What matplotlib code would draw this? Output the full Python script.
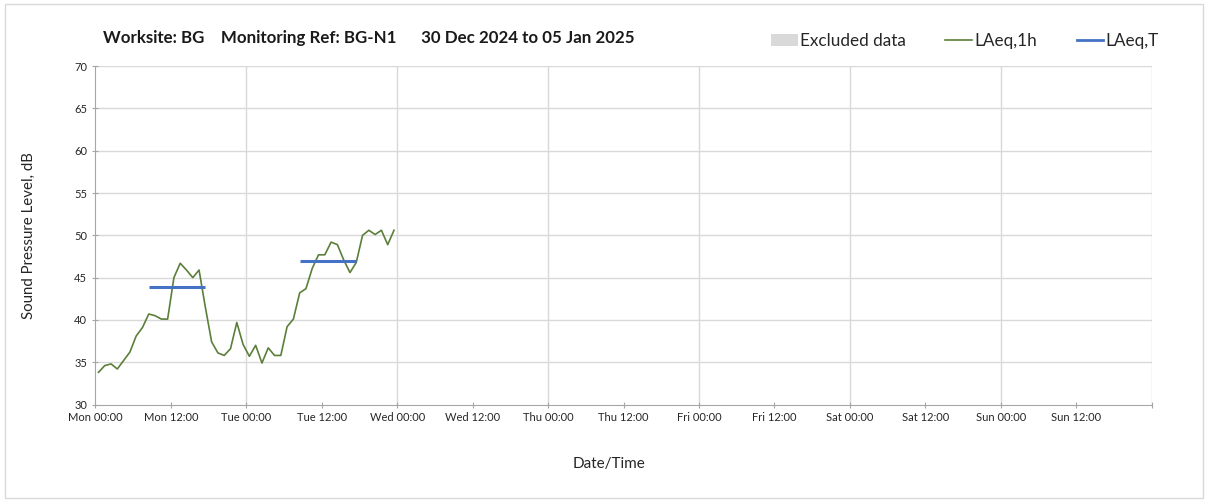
import matplotlib
matplotlib.use("Agg")
import matplotlib.pyplot as plt
from matplotlib.patches import Patch, Rectangle
from matplotlib.lines import Line2D
import pandas as pd

plt.rcParams["font.family"] = ["Lato", "DejaVu Sans"]

# ---- data ----
# LAeq,1h, one value per hour, plotted at the middle of each hour
hour_times = pd.date_range("2024-12-30 00:30", periods=48, freq="h")
laeq_1h = [33.8, 34.6, 34.8, 34.2, 35.2, 36.2, 38.1, 39.1, 40.7, 40.5, 40.1, 40.1,
           45.0, 46.7, 45.9, 45.0, 45.9, 41.5, 37.4, 36.1, 35.8, 36.6, 39.7, 37.1,
           35.7, 37.0, 34.9, 36.7, 35.8, 35.8, 39.2, 40.1, 43.2, 43.7, 46.1, 47.7,
           47.7, 49.2, 48.9, 47.1, 45.6, 46.8, 50.0, 50.6, 50.1, 50.6, 48.9, 50.6]

# LAeq,T (daytime period)
period_start = pd.to_datetime(["2024-12-30 08:30", "2024-12-31 08:30"])
period_end = pd.to_datetime(["2024-12-30 17:30", "2024-12-31 17:30"])
laeq_t = [43.9, 47.0]

x_ticks = pd.date_range("2024-12-30 00:00", "2025-01-06 00:00", freq="12h")
x_labels = ["Mon 00:00", "Mon 12:00", "Tue 00:00", "Tue 12:00", "Wed 00:00", "Wed 12:00",
            "Thu 00:00", "Thu 12:00", "Fri 00:00", "Fri 12:00", "Sat 00:00", "Sat 12:00",
            "Sun 00:00", "Sun 12:00", ""]
day_lines = pd.date_range("2024-12-31 00:00", "2025-01-06 00:00", freq="24h")
y_ticks = [30, 35, 40, 45, 50, 55, 60, 65, 70]

C_GREEN = "#5b7f3a"
C_BLUE = "#4472c4"
C_EXCL = "#d9d9d9"
GRID = "#d9d9d9"
AXC = "#a6a6a6"

fig = plt.figure(figsize=(12.08, 5.01), dpi=100)
fig.patches.append(Rectangle((5 / 1208, 3 / 501), 1198 / 1208, 494 / 501,
                             transform=fig.transFigure, fill=False,
                             edgecolor="#d9d9d9", linewidth=1))
ax = fig.add_axes([0.0789, 0.1926, 0.8745, 0.6753])

ax.plot(hour_times, laeq_1h, color=C_GREEN, linewidth=1.2)
ax.hlines(laeq_t, period_start, period_end, color=C_BLUE, linewidth=2.2)

ax.set_xlim(x_ticks[0], x_ticks[-1])
ax.set_ylim(30, 70)
ax.set_yticks(y_ticks)
ax.set_xticks(x_ticks)
ax.set_xticklabels(x_labels)

for t in day_lines:
    ax.axvline(t, color=GRID, linewidth=1, zorder=0)
for v in y_ticks[1:]:
    ax.axhline(v, color=GRID, linewidth=1, zorder=0)

for s in ["top", "right"]:
    ax.spines[s].set_visible(False)
for s in ["left", "bottom"]:
    ax.spines[s].set_color(AXC)
ax.tick_params(axis="both", direction="inout", length=5, color=AXC,
               labelsize=8, labelcolor="#262626")
ax.tick_params(axis="x", pad=3)

ax.set_ylabel("Sound Pressure Level, dB", fontsize=10.8, color="#262626")
ax.yaxis.set_label_coords(-0.0565, 0.5)
fig.text(609 / 1208, (501 - 464) / 501, "Date/Time", ha="center", va="center",
         fontsize=11, color="#262626")

fig.text(103 / 1208, (501 - 38) / 501,
         "Worksite: BG    Monitoring Ref: BG-N1      30 Dec 2024 to 05 Jan 2025",
         ha="left", va="center", fontsize=12.2, fontweight="bold", color="#1a1a1a")

handles = [Patch(facecolor=C_EXCL, edgecolor="none"),
           Line2D([], [], color=C_GREEN, linewidth=1.2),
           Line2D([], [], color=C_BLUE, linewidth=2)]
fig.legend(handles, ["Excluded data", "LAeq,1h", "LAeq,T"], ncol=3, frameon=False,
           loc="center right", bbox_to_anchor=(0.972, 0.918), fontsize=12.3,
           handlelength=1.55, handleheight=0.65, handletextpad=0.15, columnspacing=2.3,
           labelcolor="#262626")

fig.savefig("out.png", dpi=100)
